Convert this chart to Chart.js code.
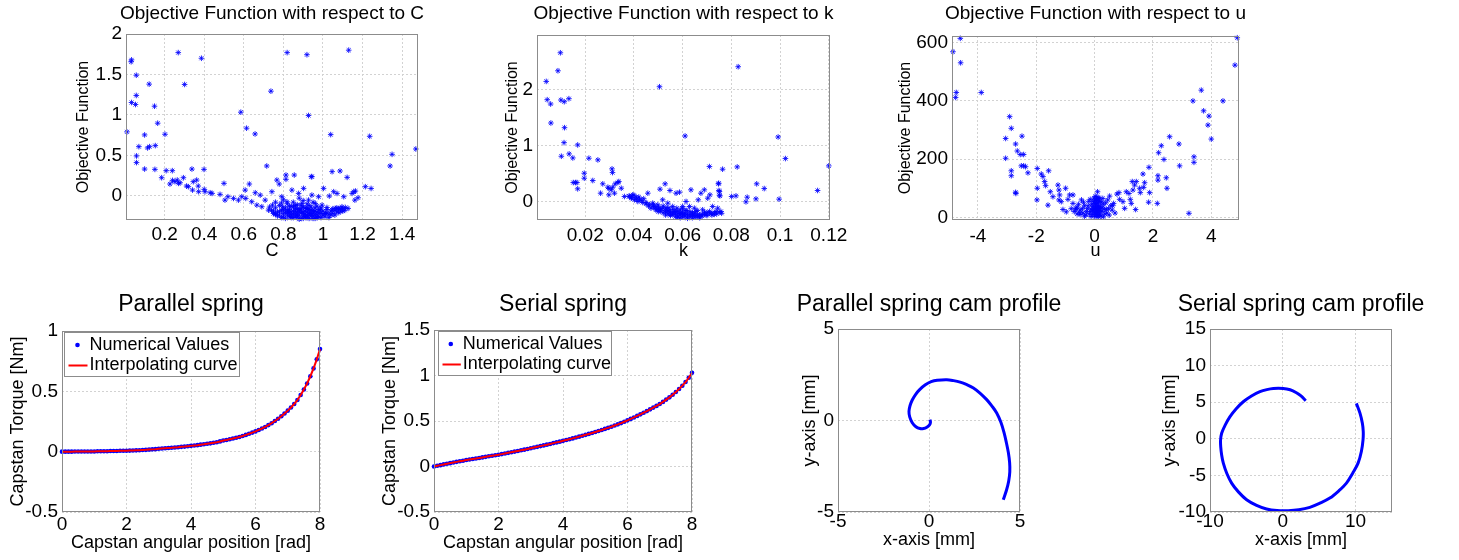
<!DOCTYPE html>
<html>
<head>
<meta charset="utf-8">
<script src="https://cdn.jsdelivr.net/npm/chart.js@4.4.1/dist/chart.umd.min.js"></script>
<style>
  body { margin: 0; background: #fff; }
  #fig { position: relative; width: 1459px; height: 560px; overflow: hidden; background: #fff; }
  canvas { position: absolute; }
</style>
</head>
<body>
<div id="fig">
  <canvas id="cChart"></canvas>
  <canvas id="kChart"></canvas>
  <canvas id="uChart"></canvas>
  <canvas id="parChart"></canvas>
  <canvas id="serChart"></canvas>
  <canvas id="parCam"></canvas>
  <canvas id="serCam"></canvas>
</div>
<script>
// ---- data ----

// objective function vs C  [C, objective]
const cPoints = [
  [0.031,1.657],[0.033,1.68],[0.269,1.77],[0.386,1.70],[0.819,1.77],[0.919,1.744],[1.13,1.80],
  [0.057,1.49],[0.122,1.38],[0.301,1.376],[0.057,1.24],[0.033,1.153],[0.053,1.128],[0.149,1.107],
  [0.737,1.293],[0.585,1.033],[0.927,0.992],[0.165,0.897],[0.614,0.835],[0.01,0.79],[0.657,0.764],
  [1.039,0.756],[0.099,0.752],[0.202,0.76],[1.236,0.735],[0.07,0.607],[0.114,0.591],[0.124,0.607],
  [0.153,0.62],[1.469,0.578],[0.058,0.492],[1.349,0.512],[0.058,0.41],[1.339,0.368],[0.716,0.368],
  [0.099,0.33],[0.151,0.326],[0.208,0.31],[0.239,0.31],[0.338,0.33],[0.399,0.326],[1.046,0.298],
  [1.086,0.306],[0.944,0.236],[1.122,0.227],[0.813,0.256],[0.855,0.256],[1.214,0.112],[1.243,0.09],
  [0.185,0.223],[0.24,0.19],[0.227,0.145],[0.252,0.174],[0.264,0.194],[0.27,0.153],[0.278,0.161],
  [0.295,0.223],[0.311,0.12],[0.32,0.112],[0.345,0.174],[0.341,0.07],[0.362,0.194],[0.37,0.12],
  [0.372,0.05],[0.4,0.079],[0.404,0.05],[0.43,0.037],[0.44,0.029],[0.48,0.017],[0.5,0.153],
  [0.505,-0.054],[0.52,-0.012],[0.548,-0.033],[0.573,-0.054],[0.59,-0.012],[0.607,0.07],[0.61,-0.033],
  [0.628,0.145],[0.64,-0.074],[0.658,0.037],[0.666,-0.116],[0.683,0.008],[0.691,-0.136],[0.708,-0.054],
  [0.725,-0.178],[0.742,0.05],[0.745,-0.116],[0.759,-0.219],[0.767,0.194],[0.779,0.145],[0.792,-0.012],
  [0.796,-0.136],[0.813,0.203],[0.818,-0.074],[0.826,-0.198],[0.835,-0.26],[0.843,0.07],[0.851,-0.136],
  [0.868,-0.24],[0.877,0.029],[0.885,-0.178],[0.894,-0.095],[0.902,0.091],[0.91,-0.26],[0.919,-0.157],
  [0.927,-0.054],[0.936,-0.219],[0.941,0.236],[0.944,0.008],[0.953,-0.198],[0.961,-0.095],[0.97,-0.26],
  [0.978,-0.012],[0.986,-0.178],[0.995,-0.116],[1.003,0.091],[1.012,-0.219],[1.02,-0.145],[1.032,-0.004],
  [1.046,-0.178],[1.054,0.05],[1.062,-0.157],[1.071,0.029],[1.08,-0.157],[1.096,-0.136],[1.105,-0.012],
  [1.113,-0.145],[1.127,-0.157],[1.147,0.029],[1.156,0.05],[1.164,0.058],[1.161,-0.054],[1.177,-0.025],
  [0.74,-0.18],[0.75,-0.22],[0.76,-0.15],[0.77,-0.2],[0.78,-0.24],[0.78,-0.12],[0.79,-0.18],[0.8,-0.22],
  [0.8,-0.26],[0.81,-0.15],[0.81,-0.2],[0.82,-0.24],[0.82,-0.1],[0.83,-0.17],[0.83,-0.21],[0.84,-0.27],
  [0.84,-0.13],[0.85,-0.19],[0.85,-0.23],[0.86,-0.16],[0.86,-0.26],[0.87,-0.2],[0.87,-0.11],[0.88,-0.24],
  [0.88,-0.17],[0.89,-0.28],[0.89,-0.21],[0.9,-0.14],[0.9,-0.25],[0.91,-0.19],[0.91,-0.23],[0.92,-0.27],
  [0.92,-0.16],[0.93,-0.21],[0.93,-0.12],[0.94,-0.25],[0.94,-0.18],[0.95,-0.22],[0.95,-0.28],[0.96,-0.15],
  [0.96,-0.24],[0.97,-0.2],[0.98,-0.26],[0.98,-0.17],[0.99,-0.22],[1.0,-0.24],[1.0,-0.19],[1.01,-0.26],
  [1.02,-0.21],[1.03,-0.23],[1.04,-0.19],[1.05,-0.22],[1.06,-0.18],[1.07,-0.2],[1.08,-0.17],[1.09,-0.19],
  [1.1,-0.16],[1.11,-0.18],[0.85,-0.08],[0.9,-0.06],[0.8,-0.05],[0.95,-0.08],[0.88,-0.03],[0.76,-0.08],
  [0.83,-0.25],[0.87,-0.27],[0.91,-0.26],[0.93,-0.24],[0.97,-0.27],[0.86,-0.22],[0.84,-0.2],[0.89,-0.16],
  [0.92,-0.2],[0.94,-0.22],[0.96,-0.19],[0.82,-0.18],[0.87,-0.24],[0.9,-0.2],[0.93,-0.17],
  [0.73,-0.14],[0.75,-0.19],[0.77,-0.25],[0.79,-0.27],[0.79,-0.09],[0.81,-0.28],[0.83,-0.13],[0.85,-0.27],
  [0.86,-0.12],[0.87,-0.16],[0.88,-0.29],[0.88,-0.2],[0.89,-0.12],[0.9,-0.28],[0.91,-0.15],[0.92,-0.24],
  [0.92,-0.1],[0.93,-0.28],[0.94,-0.14],[0.95,-0.18],[0.95,-0.25],[0.96,-0.28],[0.97,-0.13],[0.97,-0.23],
  [0.98,-0.21],[0.99,-0.27],[0.99,-0.15],[1.01,-0.22],[1.02,-0.17],[1.03,-0.27],[1.04,-0.24],[1.05,-0.16],
  [1.06,-0.24],[1.07,-0.15],[1.08,-0.21],[1.09,-0.16],[1.1,-0.19],[0.84,-0.23],[0.86,-0.19],[0.9,-0.22],
  [0.82,-0.21],[0.78,-0.2],[0.76,-0.23],[0.8,-0.17]
];

// objective function vs k  [k, objective]
const kPoints = [
  [0.0098,2.653],[0.0088,2.332],[0.004,2.142],[0.0044,1.816],[0.0058,1.739],[0.01,1.81],[0.0114,1.78],
  [0.0133,1.834],[0.0059,1.4],[0.0115,1.317],[0.0113,1.05],[0.0102,0.807],[0.0134,0.849],[0.0149,0.777],
  [0.0169,1.009],[0.0505,2.047],[0.0828,2.404],[0.061,1.169],[0.0992,1.151],[0.1022,0.766],[0.12,0.635],
  [0.0196,0.504],[0.0196,0.415],[0.0215,0.772],[0.0252,0.742],[0.031,0.582],[0.0312,0.516],[0.0231,0.374],
  [0.0272,0.315],[0.0151,0.338],[0.0166,0.338],[0.016,0.338],[0.0169,0.226],[0.071,0.623],[0.0764,0.576],
  [0.0824,0.617],[0.0747,0.315],[0.0749,0.196],[0.0751,0.113],[0.0801,0.089],[0.0819,0.101],[0.086,-0.006],
  [0.0865,0.077],[0.0904,0.315],[0.0935,0.231],[0.0901,0.047],[0.0996,0.042],[0.1154,0.196],[0.0528,0.315],
  [0.0507,0.22],[0.0263,0.148],[0.0293,0.255],[0.0297,0.231],[0.0307,0.208],[0.0313,0.255],[0.0323,0.315],
  [0.0334,0.338],[0.0338,0.356],[0.0297,0.119],[0.032,0.148],[0.0348,0.237],[0.0361,0.089],[0.0382,0.089],
  [0.0389,0.059],[0.0395,0.119],[0.0402,0.03],[0.0409,0.077],[0.0416,0],[0.0423,0.042],[0.0436,-0.018],
  [0.045,-0.042],[0.0457,0.148],[0.0464,-0.059],[0.0477,-0.03],[0.0484,-0.089],[0.0491,-0.119],[0.0498,-0.059],
  [0.0507,-0.148],[0.0518,0.03],[0.0532,-0.119],[0.0539,-0.03],[0.0546,-0.148],[0.0548,0.196],[0.0559,-0.089],
  [0.0566,-0.178],[0.0573,0.148],[0.0576,-0.119],[0.0587,0.166],[0.0593,-0.208],[0.06,-0.089],[0.0607,-0.237],
  [0.0614,0],[0.0617,-0.16],[0.0628,-0.089],[0.0634,0.208],[0.0641,-0.22],[0.0648,-0.119],[0.0655,-0.178],
  [0.0664,0.03],[0.0669,-0.237],[0.0675,0.148],[0.0682,-0.148],[0.0689,0.208],[0.0696,-0.237],[0.0703,0.059],
  [0.071,-0.178],[0.0712,0.119],[0.0723,-0.089],[0.0737,-0.178],[0.0744,-0.119],[0.0748,0.326],[0.0751,0.178],
  [0.0753,0.1],[0.0757,-0.178],
  [0.046,-0.08],[0.047,-0.12],[0.048,-0.06],[0.049,-0.15],[0.05,-0.1],[0.05,-0.18],[0.051,-0.13],[0.052,-0.2],
  [0.052,-0.08],[0.053,-0.16],[0.054,-0.22],[0.054,-0.11],[0.055,-0.19],[0.055,-0.25],[0.056,-0.14],[0.057,-0.22],
  [0.057,-0.27],[0.058,-0.17],[0.059,-0.24],[0.059,-0.29],[0.06,-0.2],[0.06,-0.13],[0.061,-0.26],[0.062,-0.22],
  [0.062,-0.3],[0.063,-0.18],[0.064,-0.25],[0.065,-0.28],[0.065,-0.21],[0.066,-0.16],[0.067,-0.26],[0.068,-0.23],
  [0.069,-0.19],[0.07,-0.25],[0.071,-0.21],[0.072,-0.24],[0.073,-0.2],[0.074,-0.22],[0.075,-0.19],[0.076,-0.21],
  [0.056,-0.2],[0.058,-0.26],[0.061,-0.16],[0.063,-0.27],[0.053,-0.24],[0.051,-0.17],[0.066,-0.24],[0.059,-0.21],
  [0.067,-0.29],[0.06,-0.28],[0.038,0.1],[0.039,0.07],[0.04,0.11],[0.041,0.04],[0.042,0.08],[0.043,0.02],
  [0.044,0.05],[0.045,-0.02],
  [0.048,-0.1],[0.05,-0.14],[0.052,-0.12],[0.053,-0.19],[0.054,-0.17],[0.056,-0.23],[0.057,-0.18],[0.058,-0.21],
  [0.059,-0.15],[0.061,-0.21],[0.062,-0.26],[0.063,-0.23],[0.064,-0.2],[0.065,-0.25],[0.066,-0.27],[0.068,-0.26],
  [0.069,-0.22],[0.07,-0.2],[0.072,-0.21],[0.073,-0.23],[0.055,-0.22],[0.06,-0.24],[0.058,-0.28],[0.064,-0.29]
];

// objective function vs u  [u, objective]
const uPoints = [
  [-4.857,569],[-4.606,615],[-4.594,531],[-4.743,429],[-4.766,412],[-3.886,429],[4.891,617],[4.811,523],
  [4.4,400],[3.657,437],[3.371,400],[3.737,366],[3.92,348],[3.886,317],[4.0,269],[3.406,208],[3.406,189],
  [2.914,177],[2.891,252],[2.571,277],[2.286,246],[2.194,222],[2.171,143],[2.171,128],[2.377,199],[2.457,136],
  [2.48,100],[2.149,48],[3.234,14],[1.863,172],[1.657,149],[1.714,119],[1.68,103],[1.886,85],[1.851,52],
  [-2.914,346],[-2.857,306],[-3.051,271],[-3.051,203],[-2.709,252],[-2.651,228],[-2.491,279],[-2.549,216],
  [-2.434,216],[-2.514,177],[-2.434,177],[-2.366,174],[-2.286,153],[-2.857,160],[-2.857,143],[-2.709,86],
  [-2.7,82],[-1.966,168],[-1.966,100],[-1.977,60],[-1.829,149],[-1.771,140],[-1.714,123],[-1.577,160],
  [-1.68,109],[-1.52,88],[-1.429,71],[-1.6,42],[-1.257,111],[-1.223,94],[-1.2,77],[-1.223,60],[-1.143,54],
  [-1.086,27],[-0.994,100],[-0.857,77],[-0.914,62],[-0.971,19],[-0.743,48],[-0.629,31],[-0.514,16],[-0.743,77],
  [0.514,73],[0.651,48],[0.766,80],[0.834,85],[0.857,62],[0.971,54],[1.029,31],[1.086,88],[1.177,82],
  [1.223,62],[1.257,48],[1.291,123],[1.371,111],[1.429,123],[1.314,94],[1.543,100],[1.566,85],[1.406,27],
  [0,5],[0.05,12],[0.1,20],[0,28],[0.08,35],[0.03,42],[0.12,50],[-0.05,55],[0.07,62],[0.15,68],[0.02,72],
  [0.1,88],[0.05,3],[-0.08,10],[0.17,15],[0.13,25],[-0.03,18],[0.2,38],[0.18,55],[-0.1,45],[0.01,60],
  [0.09,8],[0.14,2],[-0.04,32],[0.06,48],[0.11,40],[-0.02,66],[0.04,25],[0.16,30],[0.12,10],
  [-0.5,25],[-0.4,15],[-0.35,40],[-0.3,8],[-0.25,30],[-0.2,55],[-0.18,12],[-0.15,20],[-0.6,12],[-0.7,20],
  [-0.45,60],[-0.55,45],[0.25,20],[0.3,45],[0.35,12],[0.4,28],[0.45,60],[0.28,65],[0.5,8],[0.22,5],
  [-0.12,3],[0.3,2],[-0.35,4],[-0.8,30],[0.6,25],[0.7,15],[-0.6,35],[0.55,40],
  [0.02,15],[0.06,22],[0.1,30],[0.13,38],[0.04,52],[0.09,58],[0.14,62],[-0.06,38],[-0.01,48],[0.19,24],
  [0.16,8],[0.07,70],[-0.07,25],[0.11,65],[0.03,35],[-0.12,28],[-0.22,40],[-0.28,20],[-0.42,30],[-0.38,52],
  [0.26,33],[0.33,28],[0.38,50],[0.42,15],[-0.5,10],[0.48,30],[-0.65,28],[0.62,40],[-0.15,62],[0.24,52]
];

// capstan angular position [rad]
const angle = [
  0,0.1,0.2,0.3,0.4,0.5,0.6,0.7,0.8,0.9,1,1.1,1.2,1.3,1.4,1.5,1.6,1.7,1.8,1.9,2,
  2.1,2.2,2.3,2.4,2.5,2.6,2.7,2.8,2.9,3,3.1,3.2,3.3,3.4,3.5,3.6,3.7,3.8,3.9,4,
  4.1,4.2,4.3,4.4,4.5,4.6,4.7,4.8,4.9,5,5.1,5.2,5.3,5.4,5.5,5.6,5.7,5.8,5.9,6,
  6.1,6.2,6.3,6.4,6.5,6.6,6.7,6.8,6.9,7,7.1,7.2,7.3,7.4,7.5,7.6,7.7,7.8,7.9,8
];
// capstan torque [Nm]
const parallelTorque = [
  0,0,0,0,0.001,0.001,0.001,0.001,0.002,0.002,0.002,0.003,0.003,0.004,0.004,0.005,0.005,0.006,0.007,0.007,0.008,
  0.009,0.01,0.011,0.012,0.014,0.015,0.017,0.019,0.021,0.024,0.026,0.028,0.03,0.032,0.035,0.037,0.04,0.042,0.045,0.048,
  0.051,0.054,0.058,0.061,0.065,0.069,0.074,0.078,0.085,0.092,0.097,0.103,0.109,0.115,0.122,0.13,0.139,0.148,0.158,0.168,
  0.18,0.192,0.205,0.22,0.236,0.254,0.273,0.294,0.316,0.34,0.366,0.395,0.428,0.47,0.515,0.565,0.625,0.69,0.765,0.85
];
const serialTorque = [
  0,0.008,0.015,0.023,0.03,0.037,0.044,0.051,0.058,0.064,0.071,0.077,0.083,0.088,0.094,0.1,0.106,0.112,0.118,0.123,0.129,
  0.136,0.143,0.15,0.157,0.164,0.171,0.178,0.185,0.192,0.2,0.208,0.216,0.224,0.232,0.24,0.248,0.257,0.265,0.273,0.282,
  0.291,0.3,0.309,0.318,0.328,0.338,0.348,0.358,0.368,0.379,0.39,0.401,0.413,0.425,0.437,0.45,0.463,0.477,0.492,0.507,
  0.523,0.539,0.556,0.573,0.591,0.609,0.628,0.647,0.666,0.686,0.71,0.735,0.76,0.788,0.818,0.852,0.888,0.928,0.975,1.03
];

// cam profiles [x mm, y mm]
const parallelCam = [
  [0.05,0.05],[0.08,-0.1],[0.03,-0.24],[-0.12,-0.37],[-0.3,-0.44],[-0.5,-0.44],[-0.72,-0.34],[-0.92,-0.12],
  [-1.06,0.2],[-1.1,0.5],[-1.04,0.82],[-0.92,1.12],[-0.74,1.42],[-0.5,1.7],[-0.2,1.95],[0.12,2.12],[0.45,2.2],
  [0.98,2.23],[1.35,2.18],[1.71,2.1],[2.08,1.96],[2.44,1.78],[2.8,1.5],[3.17,1.14],[3.45,0.8],[3.72,0.41],
  [3.95,-0.1],[4.12,-0.65],[4.25,-1.2],[4.36,-1.75],[4.43,-2.3],[4.44,-2.8],[4.38,-3.3],[4.26,-3.8],[4.08,-4.33]
];
const serialCam = [
  [3.15,5.2],[2.5,5.85],[1.87,6.29],[1.0,6.7],[0.05,6.88],[-1.3,6.88],[-2.2,6.72],[-3.14,6.43],[-4.3,5.85],
  [-5.43,5.06],[-6.4,4.1],[-7.25,3.02],[-7.9,1.9],[-8.4,0.75],[-8.55,-0.2],[-8.53,-1.06],[-8.4,-2.2],
  [-8.17,-3.33],[-7.7,-4.7],[-7.03,-6.05],[-6.1,-7.25],[-4.97,-8.32],[-3.6,-9.1],[-2.23,-9.59],[-0.8,-9.8],
  [0.74,-9.82],[2.2,-9.7],[3.71,-9.37],[5.1,-8.8],[6.46,-8.1],[7.7,-7.1],[8.74,-6.05],[9.6,-4.7],[10.34,-3.33],
  [10.8,-1.7],[11.02,-0.15],[11.05,1.0],[10.93,2.12],[10.6,3.5],[10.11,4.84]
];

// tick labels
const cTicks = [0.2, 0.4, 0.6, 0.8, 1, 1.2, 1.4];
const kTicks = [0.02, 0.04, 0.06, 0.08, 0.1, 0.12];
const uTicks = [-4, -2, 0, 2, 4];
const objCTicks = [0, 0.5, 1, 1.5, 2];
const objKTicks = [0, 1, 2];
const objUTicks = [0, 200, 400, 600];
const angleTicks = [0, 2, 4, 6, 8];
const parTorqueTicks = [-0.5, 0, 0.5, 1];
const serTorqueTicks = [-0.5, 0, 0.5, 1, 1.5];
const parCamTicks = [-5, 0, 5];
const serCamXTicks = [-10, 0, 10];
const serCamYTicks = [-10, -5, 0, 5, 10, 15];

// ---- drawing ----
const FONT = '"Liberation Sans", Arial, Helvetica, sans-serif';
Chart.defaults.font.family = FONT;
Chart.defaults.color = '#000';

const BLUE = '#0000ff';
const GRID = '#d2d2d2';

// matlab style box round the axes
const boxPlugin = {
  id: 'axesBox',
  afterDraw(chart) {
    const { ctx, chartArea: a } = chart;
    ctx.save();
    ctx.strokeStyle = '#8c8c8c';
    ctx.lineWidth = 1;
    const l = Math.round(a.left) + 0.5, t = Math.round(a.top) + 0.5;
    ctx.strokeRect(l, t, Math.round(a.right) - Math.round(a.left) - 1, Math.round(a.bottom) - Math.round(a.top) - 1);
    ctx.restore();
  }
};

// legend drawn inside the axes, top left
const legendPlugin = {
  id: 'insideLegend',
  afterDraw(chart, args, opts) {
    if (!opts.show) return;
    const { ctx, chartArea: a } = chart;
    const x = Math.round(a.left + opts.dx) + 0.5;
    const y = Math.round(a.top + opts.dy) + 0.5;
    ctx.save();
    ctx.fillStyle = '#fff';
    ctx.fillRect(x, y, opts.w, opts.h);
    ctx.strokeStyle = '#8c8c8c';
    ctx.lineWidth = 1;
    ctx.strokeRect(x, y, opts.w, opts.h);
    ctx.font = '18px ' + FONT;
    ctx.textBaseline = 'middle';
    ctx.textAlign = 'left';
    chart.data.datasets.forEach((ds, i) => {
      const rowY = y + opts.rows[i];
      if (ds.showLine) {
        ctx.strokeStyle = ds.borderColor;
        ctx.lineWidth = ds.borderWidth;
        ctx.beginPath();
        ctx.moveTo(x + opts.lineFrom, rowY);
        ctx.lineTo(x + opts.lineTo, rowY);
        ctx.stroke();
      } else {
        ctx.fillStyle = ds.backgroundColor;
        ctx.beginPath();
        ctx.arc(x + opts.marker, rowY, 2.3, 0, Math.PI * 2);
        ctx.fill();
      }
      ctx.fillStyle = '#000';
      ctx.fillText(ds.label, x + opts.textX, rowY);
    });
    ctx.restore();
  }
};

function makeChart(id, g, ax, datasets) {
  const canvas = document.getElementById(id);
  const W = g.plotLeft - g.left;           // y axis width, mirrored on the right so the title centres on the axes
  const width = g.plotRight + W - g.left;
  const T = g.plotTop - g.top;
  const H = g.top + g.height - g.plotBottom;
  canvas.width = width;
  canvas.height = g.height;
  canvas.style.left = g.left + 'px';
  canvas.style.top = g.top + 'px';
  const tickFont = { size: 19 };

  return new Chart(canvas, {
    type: 'scatter',
    data: { datasets },
    options: {
      responsive: false,
      animation: false,
      events: [],
      layout: { padding: 0 },
      plugins: {
        legend: { display: false },
        tooltip: { enabled: false },
        title: {
          display: true,
          text: g.title,
          color: '#000',
          font: { size: g.titleSize, weight: 'normal' },
          padding: { top: g.titlePad, bottom: T - g.titlePad - g.titleSize * 1.2 }
        },
        insideLegend: g.legend || { show: false }
      },
      scales: {
        x: {
          type: 'linear',
          position: 'bottom',
          min: ax.xMin,
          max: ax.xMax,
          afterBuildTicks: s => { s.ticks = ax.xTicks.map(v => ({ value: v })); },
          afterFit: s => { s.height = H; },
          ticks: { font: tickFont, padding: g.xTickPad, maxRotation: 0, autoSkip: false, callback: v => String(v) },
          grid: { color: GRID, drawTicks: false },
          border: { display: false, dash: [2, 2] },
          title: { display: true, text: ax.xLabel, font: { size: 18 }, padding: { top: 0, bottom: g.xLabelPad } }
        },
        y: {
          type: 'linear',
          position: 'left',
          min: ax.yMin,
          max: ax.yMax,
          afterBuildTicks: s => { s.ticks = ax.yTicks.map(v => ({ value: v })); },
          afterFit: s => { s.width = W; },
          ticks: { font: tickFont, padding: 4, autoSkip: false, callback: v => String(v) },
          grid: { color: GRID, drawTicks: false },
          border: { display: false, dash: [2, 2] },
          title: { display: true, text: ax.yLabel, font: { size: g.yLabelSize }, padding: { top: g.yLabelPad, bottom: 0 } }
        },
        yr: {
          type: 'linear',
          position: 'right',
          display: true,
          ticks: { display: false },
          grid: { display: false, drawTicks: false },
          border: { display: false },
          afterFit: s => { s.width = W; }
        }
      }
    },
    plugins: [boxPlugin, legendPlugin]
  });
}

function starSeries(points) {
  return [{
    label: 'Objective Function',
    data: points.map(p => ({ x: p[0], y: p[1] })),
    pointStyle: 'star',
    pointRadius: 2.8,
    borderWidth: 1,
    borderColor: 'rgba(0,0,255,0.85)',
    backgroundColor: 'rgba(0,0,255,0.85)',
    clip: 6
  }];
}

function springSeries(torque) {
  const pts = angle.map((a, i) => ({ x: a, y: torque[i] }));
  return [
    { label: 'Numerical Values', data: pts, pointStyle: 'circle', pointRadius: 2.3, borderWidth: 0,
      backgroundColor: BLUE, showLine: false, order: 2, clip: 6 },
    { label: 'Interpolating curve', data: pts, showLine: true, borderColor: '#ff0000', borderWidth: 2,
      pointRadius: 0, tension: 0, order: 1, clip: 6 }
  ];
}

function camSeries(points) {
  return [{
    label: 'cam profile',
    data: points.map(p => ({ x: p[0], y: p[1] })),
    showLine: true, borderColor: BLUE, borderWidth: 3, pointRadius: 0, tension: 0.35
  }];
}

const topRow = { top: 0, height: 270, titleSize: 19, titlePad: 2.6, xLabelPad: 8.2, yLabelSize: 16 };
const bottomRow = { top: 280, height: 280, titleSize: 23, titlePad: 11.2, yLabelSize: 18 };

makeChart('cChart',
  { ...topRow, left: 0, plotLeft: 126, plotRight: 418, plotTop: 34, plotBottom: 220,
    title: 'Objective Function with respect to C', xTickPad: 3.2, yLabelPad: 74.4 },
  { xMin: 0.005, xMax: 1.48, xTicks: cTicks, yMin: -0.3, yMax: 2, yTicks: objCTicks,
    xLabel: 'C', yLabel: 'Objective Function' },
  starSeries(cPoints));

makeChart('kChart',
  { ...topRow, left: 447, plotLeft: 537, plotRight: 830, plotTop: 35, plotBottom: 220,
    title: 'Objective Function with respect to k', xTickPad: 4.2, yLabelPad: 55.6 },
  { xMin: 0.0002, xMax: 0.1205, xTicks: kTicks, yMin: -0.33, yMax: 2.97, yTicks: objKTicks,
    xLabel: 'k', yLabel: 'Objective Function' },
  starSeries(kPoints));

makeChart('uChart',
  { ...topRow, left: 882, plotLeft: 952, plotRight: 1239, plotTop: 36, plotBottom: 220,
    title: 'Objective Function with respect to u', xTickPad: 5, yLabelPad: 13.7 },
  { xMin: -4.89, xMax: 4.95, xTicks: uTicks, yMin: -9, yMax: 623, yTicks: objUTicks,
    xLabel: 'u', yLabel: 'Objective Function' },
  starSeries(uPoints));

const legendBox = { show: true, w: 175, h: 44, rows: [12.5, 33], marker: 13, lineFrom: 4, lineTo: 23, textX: 25 };

makeChart('parChart',
  { ...bottomRow, left: 0, plotLeft: 62, plotRight: 320, plotTop: 331, plotBottom: 512,
    title: 'Parallel spring', xTickPad: 1, xLabelPad: 6.6, yLabelPad: 6.9,
    legend: { ...legendBox, dx: 2, dy: 1 } },
  { xMin: 0, xMax: 8, xTicks: angleTicks, yMin: -0.5, yMax: 1, yTicks: parTorqueTicks,
    xLabel: 'Capstan angular position [rad]', yLabel: 'Capstan Torque [Nm]' },
  springSeries(parallelTorque));

makeChart('serChart',
  { ...bottomRow, left: 374, plotLeft: 434, plotRight: 692, plotTop: 330, plotBottom: 512,
    title: 'Serial spring', xTickPad: 1, xLabelPad: 6.6, yLabelPad: 5.7,
    legend: { ...legendBox, w: 173, dx: 3.7, dy: 1.4, textX: 24.3, marker: 12.3, lineTo: 22.3 } },
  { xMin: 0, xMax: 8, xTicks: angleTicks, yMin: -0.5, yMax: 1.5, yTicks: serTorqueTicks,
    xLabel: 'Capstan angular position [rad]', yLabel: 'Capstan Torque [Nm]' },
  springSeries(serialTorque));

makeChart('parCam',
  { ...bottomRow, left: 778, plotLeft: 838, plotRight: 1020, plotTop: 329, plotBottom: 512,
    title: 'Parallel spring cam profile', xTickPad: -1.4, xLabelPad: 9, yLabelPad: 21.5 },
  { xMin: -5, xMax: 5, xTicks: parCamTicks, yMin: -5, yMax: 5, yTicks: parCamTicks,
    xLabel: 'x-axis [mm]', yLabel: 'y-axis [mm]' },
  camSeries(parallelCam));

makeChart('serCam',
  { ...bottomRow, left: 1150, plotLeft: 1210, plotRight: 1392, plotTop: 329, plotBottom: 512,
    title: 'Serial spring cam profile', xTickPad: -1.4, xLabelPad: 9, yLabelPad: 9.5 },
  { xMin: -10, xMax: 15, xTicks: serCamXTicks, yMin: -10, yMax: 15, yTicks: serCamYTicks,
    xLabel: 'x-axis [mm]', yLabel: 'y-axis [mm]' },
  camSeries(serialCam));
</script>
</body>
</html>
